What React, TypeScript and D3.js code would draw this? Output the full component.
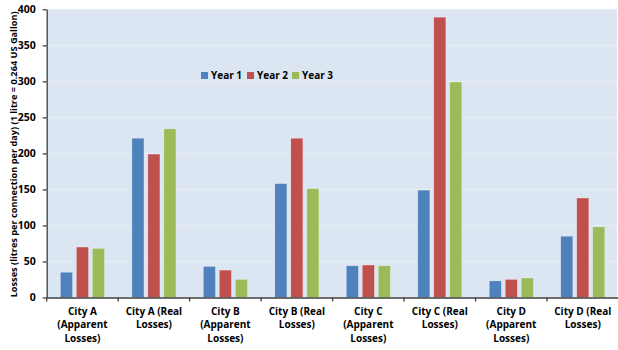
import { useEffect, useRef } from "react";
import * as d3 from "d3";

const categories = [
  "City A (Apparent Losses)",
  "City A (Real Losses)",
  "City B (Apparent Losses)",
  "City B (Real Losses)",
  "City C (Apparent Losses)",
  "City C (Real Losses)",
  "City D (Apparent Losses)",
  "City D (Real Losses)",
];
const catLines = [
  ["City A", "(Apparent", "Losses)"],
  ["City A (Real", "Losses)"],
  ["City B", "(Apparent", "Losses)"],
  ["City B (Real", "Losses)"],
  ["City C", "(Apparent", "Losses)"],
  ["City C (Real", "Losses)"],
  ["City D", "(Apparent", "Losses)"],
  ["City D (Real", "Losses)"],
];
const seriesNames = ["Year 1", "Year 2", "Year 3"];
const seriesColors = ["#4f81bd", "#c0504d", "#9bbb59"];
const year1 = [35, 221, 43, 158, 44, 149, 23, 85];
const year2 = [70, 199, 38, 221, 45, 389, 25, 138];
const year3 = [68, 234, 25, 151, 44, 299, 27, 98];
const yTicks = [0, 50, 100, 150, 200, 250, 300, 350, 400];

const W = 618;
const H = 350;
const margin = { left: 46.7, right: 0, top: 9.3, bottom: 52.5 };
const font = "'Open Sans', 'DejaVu Sans', sans-serif";

export default function App() {
  const svgRef = useRef(null);

  useEffect(() => {
    const svg = d3.select(svgRef.current);
    svg.selectAll("*").remove();

    const x = d3.scaleBand().domain(categories).range([margin.left, W - margin.right + 0.5]).padding(0);
    const xs = d3.scaleBand().domain(seriesNames).range([0, x.bandwidth()]).paddingInner(0.25).paddingOuter(0.86);
    const y = d3.scaleLinear().domain([0, 400]).range([H - margin.bottom, margin.top]);

    // plot background
    svg.append("rect")
      .attr("x", margin.left)
      .attr("y", margin.top)
      .attr("width", W - margin.left - 1)
      .attr("height", y(0) - margin.top)
      .attr("fill", "#dce6f2");

    // gridlines
    svg.append("g").selectAll("line")
      .data(yTicks.filter((d) => d > 0))
      .join("line")
      .attr("x1", margin.left)
      .attr("x2", W - 1)
      .attr("y1", (d) => y(d))
      .attr("y2", (d) => y(d))
      .attr("stroke", "#e9eef6")
      .attr("stroke-width", 1);

    const data = [year1, year2, year3];
    const groups = svg.append("g").selectAll("g")
      .data(seriesNames)
      .join("g")
      .attr("fill", (d, i) => seriesColors[i]);

    groups.selectAll("rect")
      .data((s, i) => categories.map((c, j) => ({ c, s, v: data[i][j] })))
      .join("rect")
      .attr("x", (d) => x(d.c)! + xs(d.s)!)
      .attr("y", (d) => y(d.v))
      .attr("width", xs.bandwidth())
      .attr("height", (d) => y(0) - y(d.v))
      .attr("stroke", "rgba(255,255,255,0.35)")
      .attr("stroke-width", 0.6);

    // y axis
    const yAx = svg.append("g")
      .attr("transform", `translate(${margin.left},0)`)
      .call(d3.axisLeft(y).tickValues(yTicks).tickSize(4).tickSizeOuter(0).tickPadding(7));
    yAx.select(".domain").attr("stroke", "#404040").attr("stroke-width", 1.3);
    yAx.selectAll(".tick line").attr("stroke", "#404040").attr("stroke-width", 1.3);
    yAx.selectAll("text")
      .attr("font-family", font)
      .attr("font-weight", "bold")
      .attr("font-size", 10.5)
      .attr("fill", "#000");

    // x axis
    const xAx = svg.append("g")
      .attr("transform", `translate(0,${y(0)})`)
      .call(d3.axisBottom(x).tickSize(0).tickFormat(() => ""));
    xAx.select(".domain").attr("stroke", "#404040").attr("stroke-width", 1.3);
    xAx.append("g").selectAll("line")
      .data(categories)
      .join("line")
      .attr("x1", (d) => x(d)!)
      .attr("x2", (d) => x(d)!)
      .attr("y1", 0)
      .attr("y2", 4)
      .attr("stroke", "#404040")
      .attr("stroke-width", 1.3);

    const labels = svg.append("g")
      .attr("font-family", font)
      .attr("font-weight", "bold")
      .attr("font-size", 10)
      .attr("fill", "#000")
      .attr("text-anchor", "middle");
    categories.forEach((c, i) => {
      const t = labels.append("text")
        .attr("x", x(c)! + x.bandwidth() / 2)
        .attr("y", y(0) + 17);
      catLines[i].forEach((ln, k) => {
        t.append("tspan")
          .attr("x", x(c)! + x.bandwidth() / 2)
          .attr("dy", k === 0 ? 0 : 13.5)
          .text(ln);
      });
    });

    // y axis title
    svg.append("text")
      .attr("transform", `translate(17,${(margin.top + y(0)) / 2 + 1}) rotate(-90)`)
      .attr("text-anchor", "middle")
      .attr("font-family", font)
      .attr("font-weight", "bold")
      .attr("font-size", 9.2)
      .attr("fill", "#000")
      .text("Losses (litres per connection per day) (1 litre = 0.264 US Gallon)");

    // legend
    const lx = [201, 247, 292];
    const legend = svg.append("g");
    seriesNames.forEach((s, i) => {
      legend.append("rect")
        .attr("x", lx[i])
        .attr("y", 72)
        .attr("width", 7)
        .attr("height", 7)
        .attr("fill", seriesColors[i]);
      legend.append("text")
        .attr("x", lx[i] + 10)
        .attr("y", 79)
        .attr("font-family", font)
        .attr("font-weight", "bold")
        .attr("font-size", 10)
        .attr("fill", "#000")
        .text(s);
    });
  }, []);

  return (
    <svg
      ref={svgRef}
      width={W}
      height={H}
      style={{ position: "absolute", left: 0, top: 0, background: "#fff" }}
    />
  );
}
